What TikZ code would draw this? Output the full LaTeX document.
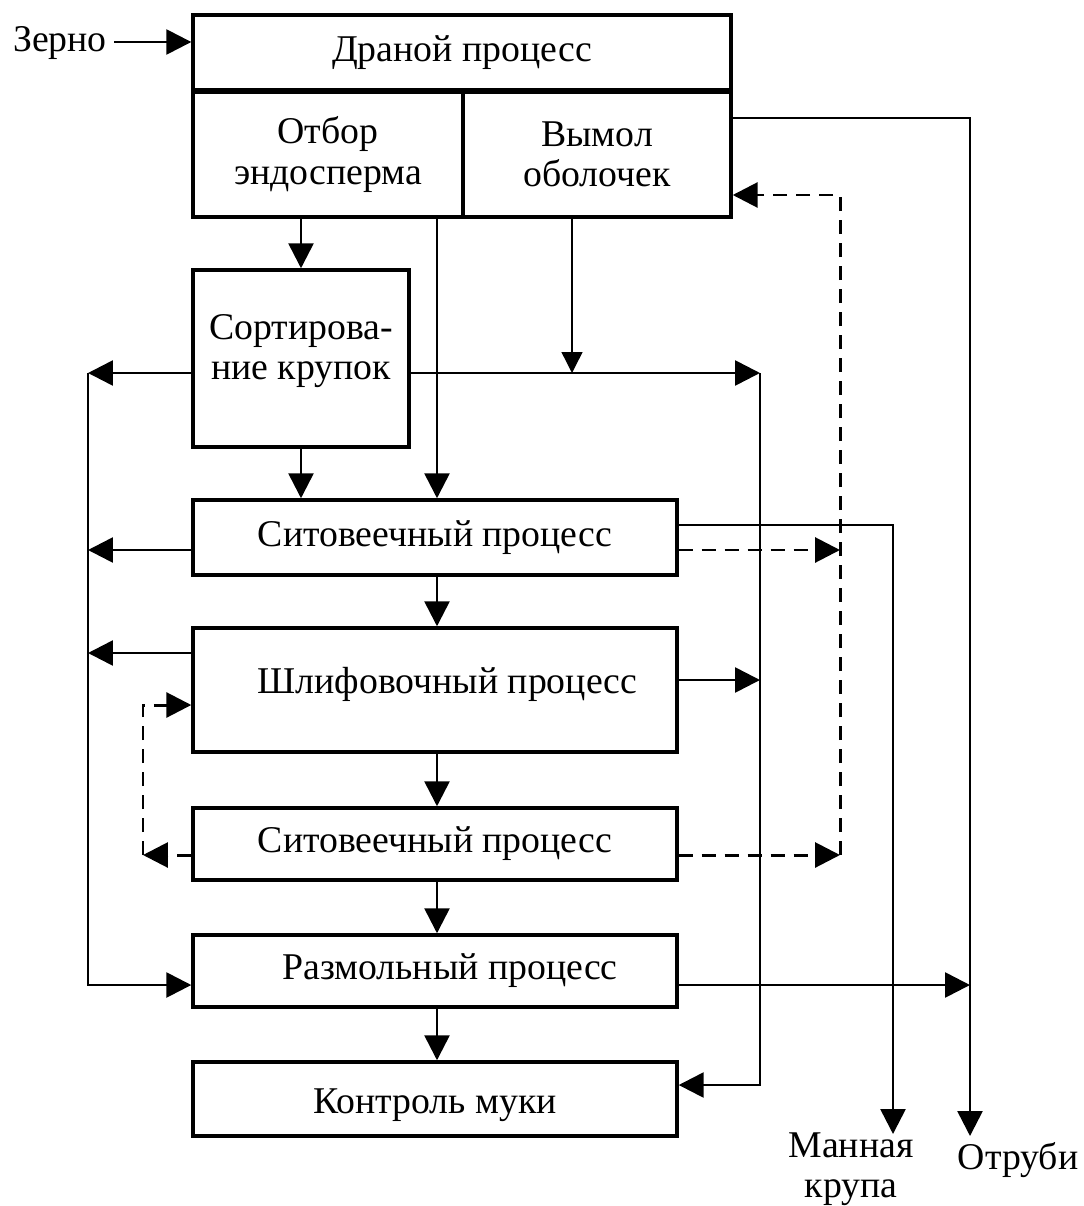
\documentclass[tikz,border=0pt]{standalone}
\usepackage{fontspec}
\setmainfont{Liberation Serif}
\usetikzlibrary{arrows.meta,positioning}

\begin{document}
\begin{tikzpicture}[x=0.02cm,y=-0.02cm,
  every node/.style={align=center,font=\fontsize{21.5}{23}\selectfont,inner sep=0pt},%
  bx/.style={draw,line width=2pt,minimum width=9.68cm},%
  e/.style={-{Triangle[length=0.5cm,width=0.5cm]},line width=1.5pt},%
  et/.style={-{Triangle[length=0.42cm,width=0.42cm]},line width=0.8pt},%
  ed/.style={e,line width=1.7pt,dash pattern=on 0.28cm off 0.18cm},%
  ]
  \useasboundingbox (0,0) rectangle (1084,1206);
  % blocks
  \node (drp) [bx,minimum width=10.76cm,minimum height=1.5cm] at (462,52.5) {Драной процесс};
  \node (otb) [bx,minimum width=5.4cm,minimum height=2.5cm] at (328,154.5) {Отбор\\эндосперма};
  \node (vym) [bx,minimum width=5.36cm,minimum height=2.5cm] at (597,154.5) {Вымол\\оболочек};
  \node (srt) [bx,minimum width=4.32cm,minimum height=3.54cm,text depth=0.45cm] at (301,358.5) {Сортирова-\\ние крупок};
  \node (sit1) [bx,minimum height=1.5cm] at (435,537.5) {Ситовеечный процесс};
  \node (shl) [bx,minimum height=2.48cm,text depth=0.4cm] at (435,690) {\hspace{0.5cm}Шлифовочный процесс};
  \node (sit2) [bx,minimum height=1.44cm] at (435,844) {Ситовеечный процесс};
  \node (raz) [bx,minimum height=1.44cm] at (435,971) {\hspace{0.6cm}Размольный процесс};
  \node (kon) [bx,minimum height=1.48cm,text height=0.75cm] at (435,1099) {Контроль муки};
  \node (zer) [inner xsep=4pt] at (60,43) {Зерно};
  \node (mk) at (851,1169) {Манная\\крупа};
  \node (otr) at (1018,1160) {Отруби};
  % bus points
  \coordinate (l1) at (88,373);
  \coordinate (l2) at (88,550);
  \coordinate (l3) at (88,653);
  \coordinate (l4) at (88,985);
  \coordinate (r1) at (760,373);
  \coordinate (r2) at (760,680);
  \coordinate (r3) at (760,1085);
  \coordinate (vj) at (572,373);
  \coordinate (d1) at (840,195);
  \coordinate (d2) at (840,550);
  \coordinate (d3) at (840,855);
  \coordinate (b1) at (143,705);
  \coordinate (b2) at (143,855);
  \coordinate (m1) at (893,525);
  \coordinate (m2) at (893,1134);
  \coordinate (o1) at (970,118);
  \coordinate (o2) at (970,1136);
  \coordinate (o3) at (970,985);
  % main flow
  \draw [e] (zer.east |- 0,42) -- (drp.west |- 0,42);
  \draw [e] (otb.south -| srt.north) -- (srt.north);
  \draw [e] (srt.south) -- (srt.south |- sit1.north);
  \draw [e] (otb.south -| 437,0) -- (sit1.north -| 437,0);
  \draw [e] (sit1.south -| 437,0) -- (shl.north -| 437,0);
  \draw [e] (shl.south -| 437,0) -- (sit2.north -| 437,0);
  \draw [e] (sit2.south -| 437,0) -- (raz.north -| 437,0);
  \draw [e] (raz.south -| 437,0) -- (kon.north -| 437,0);
  \draw [et] (vym.south -| vj) -- (vj);
  % left bus
  \draw [e] (srt.west |- l1) -- (l1);
  \draw [e] (sit1.west |- l2) -- (l2);
  \draw [e] (shl.west |- l3) -- (l3);
  \draw [e] (l1) -- (l4) -- (raz.west |- l4);
  % right bus
  \draw [e] (srt.east |- r1) -- (r1);
  \draw [e] (shl.east |- r2) -- (r2);
  \draw [e] (r1) -- (r3) -- (kon.east |- r3);
  % returns
  \draw [ed] (sit1.east |- d2) -- (d2);
  \draw [ed] (sit2.east |- d3) -- (d3);
  \draw [ed] (d3) -- (d1) -- (vym.east |- d1);
  \draw [ed] (sit2.west |- b2) -- (b2);
  \draw [ed] (b2) -- (b1) -- (shl.west |- b1);
  % outputs
  \draw [e] (sit1.east |- m1) -- (m1) -- (m2);
  \draw [e] (vym.east |- o1) -- (o1) -- (o2);
  \draw [e] (raz.east |- o3) -- (o3);
\end{tikzpicture}
\end{document}
